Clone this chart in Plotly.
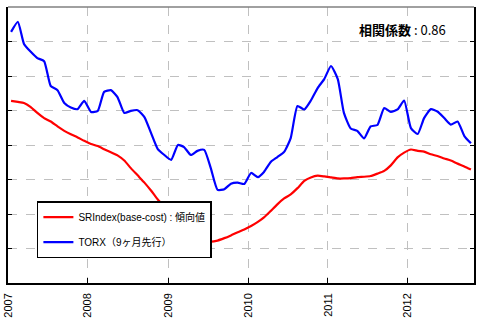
import plotly.graph_objects as go

# Monthly observations, Jan 2007 - Oct 2012 (plotted mid-month)
months = [f"{y}-{m:02d}-15" for y in range(2007, 2013) for m in range(1, 13)][:70]

# SRIndex (base-cost) trend values
sr_index = [
    5.28, 5.25, 5.22, 5.10, 4.93, 4.78, 4.68, 4.54, 4.41, 4.31,
    4.22, 4.12, 4.03, 3.97, 3.88, 3.79, 3.70, 3.55, 3.33, 3.12,
    2.91, 2.68, 2.42, 2.20, 1.97, 1.75, 1.54, 1.36, 1.28, 1.26,
    1.20, 1.23, 1.30, 1.38, 1.47, 1.55, 1.65, 1.77, 1.90, 2.09,
    2.28, 2.45, 2.57, 2.75, 2.96, 3.06, 3.11, 3.09, 3.06, 3.03,
    3.03, 3.04, 3.07, 3.08, 3.10, 3.17, 3.25, 3.41, 3.64, 3.78,
    3.87, 3.83, 3.81, 3.73, 3.68, 3.61, 3.55, 3.46, 3.38, 3.29,
]

# TORX, shifted 9 months ahead
torx = [
    7.28, 7.57, 6.93, 6.70, 6.52, 6.43, 5.71, 5.59, 5.22, 5.09,
    5.04, 5.28, 4.96, 4.99, 5.54, 5.59, 5.39, 4.93, 4.99, 5.01,
    4.81, 4.35, 3.88, 3.71, 3.57, 4.00, 3.94, 3.71, 3.83, 3.86,
    3.33, 2.70, 2.72, 2.88, 2.91, 2.87, 3.19, 3.07, 3.22, 3.51,
    3.65, 3.80, 4.20, 5.13, 5.03, 5.29, 5.65, 5.91, 6.29, 5.91,
    4.93, 4.48, 4.41, 4.19, 4.54, 4.58, 5.07, 4.96, 5.03, 5.29,
    4.49, 4.32, 4.78, 5.04, 4.97, 4.78, 4.59, 4.68, 4.26, 4.05,
]

year_ticks = ["2007-01-01", "2008-01-01", "2009-01-01", "2010-01-01", "2011-01-01", "2012-01-01"]
year_labels = ["2007", "2008", "2009", "2010", "2011", "2012"]

fig = go.Figure()
fig.add_trace(go.Scatter(
    x=months, y=sr_index, mode="lines", name="SRIndex(base-cost) : 傾向値",
    line=dict(color="#ff0000", width=2.2, shape="spline", smoothing=0.5),
    legendgroup="a",
))
fig.add_trace(go.Scatter(
    x=months, y=torx, mode="lines", name="TORX（9ヶ月先行）",
    line=dict(color="#0000ff", width=2.2, shape="spline", smoothing=0.5),
    legendgroup="b",
))

fig.update_layout(
    width=484, height=323,
    margin=dict(l=8, r=10, t=7, b=40, autoexpand=False),
    paper_bgcolor="white", plot_bgcolor="white",
    font=dict(family="Liberation Sans, Arial, sans-serif", color="black"),
    showlegend=True,
    legend=dict(
        x=0.062, y=0.297, xanchor="left", yanchor="top",
        bgcolor="white", bordercolor="black", borderwidth=1.5,
        font=dict(size=10, family="Liberation Sans, Noto Sans CJK JP"),
        traceorder="grouped", tracegroupgap=6, itemwidth=30,
    ),
    xaxis=dict(
        type="date", range=["2007-01-01", "2012-10-29"],
        tickmode="array", tickvals=year_ticks, ticktext=year_labels,
        tickangle=-90, tickfont=dict(size=11),
        ticks="inside", ticklen=5, tickcolor="black",
        showgrid=True, gridcolor="#c0c0c0", griddash="dash", gridwidth=1,
        showline=True, linecolor="black", linewidth=1.5, mirror=False,
        zeroline=False, automargin=False, ticklabelstandoff=4,
    ),
    yaxis=dict(
        range=[0, 8], dtick=1, showticklabels=False,
        ticks="inside", ticklen=4, tickcolor="black",
        showgrid=True, gridcolor="#c0c0c0", griddash="dash", gridwidth=1,
        showline=True, linecolor="black", linewidth=1.5, mirror="ticks",
        zeroline=False, automargin=False,
    ),
    shapes=[dict(type="line", xref="paper", yref="paper", x0=0, x1=1, y0=1, y1=1,
                 line=dict(color="#808080", width=1.5))],
    annotations=[dict(
        text="<b>相関係数</b> : 0.86", xref="paper", yref="paper",
        x=0.944, y=0.917, xanchor="right", yanchor="middle", showarrow=False,
        font=dict(size=13, family="Noto Sans CJK JP, Liberation Sans", color="black"),
    )],
)

fig.write_html("out.html")
